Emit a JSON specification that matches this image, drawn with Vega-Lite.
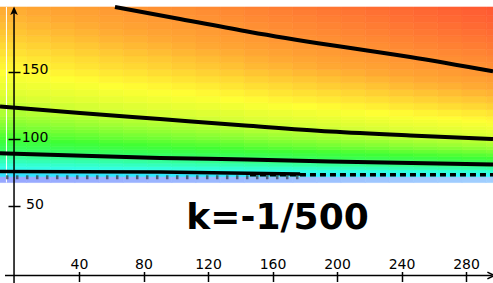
{
"$schema": "https://vega.github.io/schema/vega-lite/v6.json",
"width": 493, "height": 283, "autosize": "none", "padding": 0, "background": "white",
"config": {"view": {"stroke": null}},
"encoding": {
 "x": {"field": "x", "type": "quantitative", "title": null, "scale": {"domain": [-9, 296.7], "nice": false, "zero": false},
   "axis": {"title": null, "zindex": 1, "values": [40,80,120,160,200,240,280], "domain": false, "grid": false, "offset": -11.5, "tickSize": 10, "tickWidth": 1.5, "tickColor": "#000", "labelPadding": -13.5, "labelBaseline": "alphabetic", "labelFont": "DejaVu Sans", "labelFontSize": 14, "labelColor": "#000", "labelFlush": false, "labelOverlap": false}},
 "y": {"field": "y", "type": "quantitative", "title": null, "scale": {"domain": [-7.46, 203.73], "nice": false, "zero": false},
   "axis": {"title": null, "zindex": 1, "values": [50,100,150], "domain": false, "grid": false, "offset": -20, "tickSize": 12, "tickWidth": 1.5, "tickColor": "#000", "labelPadding": -26.5, "labelAlign": "center", "labelBaseline": "middle", "labelOffset": -2, "labelFont": "DejaVu Sans", "labelFontSize": 14, "labelColor": "#000", "labelFlush": false, "labelOverlap": false}}
},
"layer": [
 {
  "data": {"values": [
{"y":67.5,"y2":72,"c0":-100,"c1":-97,"c2":-94,"c3":-91,"c4":-87,"c5":-84,"c6":-81,"c7":-78,"c8":-75,"c9":-72,"c10":-68,"c11":-65,"c12":-62,"c13":-59,"c14":-56,"c15":-53,"c16":-49,"c17":-46,"c18":-43,"c19":-40,"c20":-37},
{"y":72,"y2":74.5,"c0":118,"c1":121,"c2":124,"c3":127,"c4":131,"c5":134,"c6":137,"c7":140,"c8":143,"c9":146,"c10":150,"c11":153,"c12":156,"c13":159,"c14":162,"c15":165,"c16":169,"c17":172,"c18":175,"c19":178,"c20":181},
{"y":74.5,"y2":77,"c0":175,"c1":178,"c2":181,"c3":184,"c4":188,"c5":191,"c6":194,"c7":197,"c8":200,"c9":203,"c10":207,"c11":210,"c12":213,"c13":216,"c14":219,"c15":222,"c16":226,"c17":229,"c18":232,"c19":235,"c20":238},
{"y":77,"y2":79.5,"c0":211,"c1":214,"c2":217,"c3":220,"c4":224,"c5":227,"c6":230,"c7":233,"c8":236,"c9":239,"c10":243,"c11":246,"c12":249,"c13":252,"c14":255,"c15":258,"c16":262,"c17":265,"c18":268,"c19":271,"c20":274},
{"y":79.5,"y2":82,"c0":237,"c1":240,"c2":243,"c3":246,"c4":250,"c5":253,"c6":256,"c7":259,"c8":262,"c9":265,"c10":269,"c11":272,"c12":275,"c13":278,"c14":281,"c15":284,"c16":288,"c17":291,"c18":294,"c19":297,"c20":300},
{"y":82,"y2":84.5,"c0":258,"c1":261,"c2":264,"c3":267,"c4":271,"c5":274,"c6":277,"c7":280,"c8":283,"c9":286,"c10":290,"c11":293,"c12":296,"c13":299,"c14":302,"c15":305,"c16":309,"c17":312,"c18":315,"c19":318,"c20":321},
{"y":84.5,"y2":87,"c0":276,"c1":279,"c2":282,"c3":285,"c4":289,"c5":292,"c6":295,"c7":298,"c8":301,"c9":304,"c10":308,"c11":311,"c12":314,"c13":317,"c14":320,"c15":323,"c16":327,"c17":330,"c18":333,"c19":336,"c20":339},
{"y":87,"y2":89.5,"c0":290,"c1":293,"c2":296,"c3":299,"c4":303,"c5":306,"c6":309,"c7":312,"c8":315,"c9":318,"c10":322,"c11":325,"c12":328,"c13":331,"c14":334,"c15":337,"c16":341,"c17":344,"c18":347,"c19":350,"c20":353},
{"y":89.5,"y2":92,"c0":303,"c1":306,"c2":309,"c3":312,"c4":316,"c5":319,"c6":322,"c7":325,"c8":328,"c9":331,"c10":335,"c11":338,"c12":341,"c13":344,"c14":347,"c15":350,"c16":354,"c17":357,"c18":360,"c19":363,"c20":366},
{"y":92,"y2":94.5,"c0":315,"c1":318,"c2":321,"c3":324,"c4":328,"c5":331,"c6":334,"c7":337,"c8":340,"c9":343,"c10":347,"c11":350,"c12":353,"c13":356,"c14":359,"c15":362,"c16":366,"c17":369,"c18":372,"c19":375,"c20":378},
{"y":94.5,"y2":97,"c0":325,"c1":328,"c2":331,"c3":334,"c4":338,"c5":341,"c6":344,"c7":347,"c8":350,"c9":353,"c10":357,"c11":360,"c12":363,"c13":366,"c14":369,"c15":372,"c16":376,"c17":379,"c18":382,"c19":385,"c20":388},
{"y":97,"y2":99.5,"c0":334,"c1":337,"c2":340,"c3":343,"c4":347,"c5":350,"c6":353,"c7":356,"c8":359,"c9":362,"c10":366,"c11":369,"c12":372,"c13":375,"c14":378,"c15":381,"c16":385,"c17":388,"c18":391,"c19":394,"c20":397},
{"y":99.5,"y2":102,"c0":343,"c1":346,"c2":349,"c3":352,"c4":356,"c5":359,"c6":362,"c7":365,"c8":368,"c9":371,"c10":375,"c11":378,"c12":381,"c13":384,"c14":387,"c15":390,"c16":394,"c17":397,"c18":400,"c19":403,"c20":406},
{"y":102,"y2":104.5,"c0":350,"c1":353,"c2":356,"c3":359,"c4":363,"c5":366,"c6":369,"c7":372,"c8":375,"c9":378,"c10":382,"c11":385,"c12":388,"c13":391,"c14":394,"c15":397,"c16":401,"c17":404,"c18":407,"c19":410,"c20":413},
{"y":104.5,"y2":107,"c0":358,"c1":361,"c2":364,"c3":367,"c4":371,"c5":374,"c6":377,"c7":380,"c8":383,"c9":386,"c10":390,"c11":393,"c12":396,"c13":399,"c14":402,"c15":405,"c16":409,"c17":412,"c18":415,"c19":418,"c20":421},
{"y":107,"y2":109.5,"c0":364,"c1":367,"c2":370,"c3":373,"c4":377,"c5":380,"c6":383,"c7":386,"c8":389,"c9":392,"c10":396,"c11":399,"c12":402,"c13":405,"c14":408,"c15":411,"c16":415,"c17":418,"c18":421,"c19":424,"c20":427},
{"y":109.5,"y2":112,"c0":371,"c1":374,"c2":377,"c3":380,"c4":384,"c5":387,"c6":390,"c7":393,"c8":396,"c9":399,"c10":403,"c11":406,"c12":409,"c13":412,"c14":415,"c15":418,"c16":422,"c17":425,"c18":428,"c19":431,"c20":434},
{"y":112,"y2":114.5,"c0":377,"c1":380,"c2":383,"c3":386,"c4":390,"c5":393,"c6":396,"c7":399,"c8":402,"c9":405,"c10":409,"c11":412,"c12":415,"c13":418,"c14":421,"c15":424,"c16":428,"c17":431,"c18":434,"c19":437,"c20":440},
{"y":114.5,"y2":117,"c0":382,"c1":385,"c2":388,"c3":391,"c4":395,"c5":398,"c6":401,"c7":404,"c8":407,"c9":410,"c10":414,"c11":417,"c12":420,"c13":423,"c14":426,"c15":429,"c16":433,"c17":436,"c18":439,"c19":442,"c20":445},
{"y":117,"y2":122,"c0":390,"c1":393,"c2":396,"c3":399,"c4":403,"c5":406,"c6":409,"c7":412,"c8":415,"c9":418,"c10":422,"c11":425,"c12":428,"c13":431,"c14":434,"c15":437,"c16":441,"c17":444,"c18":447,"c19":450,"c20":453},
{"y":122,"y2":127,"c0":400,"c1":403,"c2":406,"c3":409,"c4":413,"c5":416,"c6":419,"c7":422,"c8":425,"c9":428,"c10":432,"c11":435,"c12":438,"c13":441,"c14":444,"c15":447,"c16":451,"c17":454,"c18":457,"c19":460,"c20":463},
{"y":127,"y2":132,"c0":409,"c1":412,"c2":415,"c3":418,"c4":422,"c5":425,"c6":428,"c7":431,"c8":434,"c9":437,"c10":441,"c11":444,"c12":447,"c13":450,"c14":453,"c15":456,"c16":460,"c17":463,"c18":466,"c19":469,"c20":472},
{"y":132,"y2":137,"c0":417,"c1":420,"c2":423,"c3":426,"c4":430,"c5":433,"c6":436,"c7":439,"c8":442,"c9":445,"c10":449,"c11":452,"c12":455,"c13":458,"c14":461,"c15":464,"c16":468,"c17":471,"c18":474,"c19":477,"c20":480},
{"y":137,"y2":142,"c0":424,"c1":427,"c2":430,"c3":433,"c4":437,"c5":440,"c6":443,"c7":446,"c8":449,"c9":452,"c10":456,"c11":459,"c12":462,"c13":465,"c14":468,"c15":471,"c16":475,"c17":478,"c18":481,"c19":484,"c20":487},
{"y":142,"y2":147,"c0":431,"c1":434,"c2":437,"c3":440,"c4":444,"c5":447,"c6":450,"c7":453,"c8":456,"c9":459,"c10":463,"c11":466,"c12":469,"c13":472,"c14":475,"c15":478,"c16":482,"c17":485,"c18":488,"c19":491,"c20":494},
{"y":147,"y2":152,"c0":438,"c1":441,"c2":444,"c3":447,"c4":451,"c5":454,"c6":457,"c7":460,"c8":463,"c9":466,"c10":470,"c11":473,"c12":476,"c13":479,"c14":482,"c15":485,"c16":489,"c17":492,"c18":495,"c19":498,"c20":501},
{"y":152,"y2":157,"c0":444,"c1":447,"c2":450,"c3":453,"c4":457,"c5":460,"c6":463,"c7":466,"c8":469,"c9":472,"c10":476,"c11":479,"c12":482,"c13":485,"c14":488,"c15":491,"c16":495,"c17":498,"c18":501,"c19":504,"c20":507},
{"y":157,"y2":162,"c0":449,"c1":452,"c2":455,"c3":458,"c4":462,"c5":465,"c6":468,"c7":471,"c8":474,"c9":477,"c10":481,"c11":484,"c12":487,"c13":490,"c14":493,"c15":496,"c16":500,"c17":503,"c18":506,"c19":509,"c20":512},
{"y":162,"y2":167,"c0":455,"c1":458,"c2":461,"c3":464,"c4":468,"c5":471,"c6":474,"c7":477,"c8":480,"c9":483,"c10":487,"c11":490,"c12":493,"c13":496,"c14":499,"c15":502,"c16":506,"c17":509,"c18":512,"c19":515,"c20":518},
{"y":167,"y2":172,"c0":460,"c1":463,"c2":466,"c3":469,"c4":473,"c5":476,"c6":479,"c7":482,"c8":485,"c9":488,"c10":492,"c11":495,"c12":498,"c13":501,"c14":504,"c15":507,"c16":511,"c17":514,"c18":517,"c19":520,"c20":523},
{"y":172,"y2":177,"c0":465,"c1":468,"c2":471,"c3":474,"c4":478,"c5":481,"c6":484,"c7":487,"c8":490,"c9":493,"c10":497,"c11":500,"c12":503,"c13":506,"c14":509,"c15":512,"c16":516,"c17":519,"c18":522,"c19":525,"c20":528},
{"y":177,"y2":182,"c0":470,"c1":473,"c2":476,"c3":479,"c4":483,"c5":486,"c6":489,"c7":492,"c8":495,"c9":498,"c10":502,"c11":505,"c12":508,"c13":511,"c14":514,"c15":517,"c16":521,"c17":524,"c18":527,"c19":530,"c20":533},
{"y":182,"y2":187,"c0":474,"c1":477,"c2":480,"c3":483,"c4":487,"c5":490,"c6":493,"c7":496,"c8":499,"c9":502,"c10":506,"c11":509,"c12":512,"c13":515,"c14":518,"c15":521,"c16":525,"c17":528,"c18":531,"c19":534,"c20":537},
{"y":187,"y2":192,"c0":478,"c1":481,"c2":484,"c3":487,"c4":491,"c5":494,"c6":497,"c7":500,"c8":503,"c9":506,"c10":510,"c11":513,"c12":516,"c13":519,"c14":522,"c15":525,"c16":529,"c17":532,"c18":535,"c19":538,"c20":541},
{"y":192,"y2":197,"c0":482,"c1":485,"c2":488,"c3":491,"c4":495,"c5":498,"c6":501,"c7":504,"c8":507,"c9":510,"c10":514,"c11":517,"c12":520,"c13":523,"c14":526,"c15":529,"c16":533,"c17":536,"c18":539,"c19":542,"c20":545},
{"y":197,"y2":198.5,"c0":485,"c1":488,"c2":491,"c3":494,"c4":498,"c5":501,"c6":504,"c7":507,"c8":510,"c9":513,"c10":517,"c11":520,"c12":523,"c13":526,"c14":529,"c15":532,"c16":536,"c17":539,"c18":542,"c19":545,"c20":548}
  ]},
  "transform": [
   {"fold": ["c0","c1","c2","c3","c4","c5","c6","c7","c8","c9","c10","c11","c12","c13","c14","c15","c16","c17","c18","c19","c20"], "as": ["k", "L"]},
   {"lookup": "k", "from": {"data": {"values": [
     {"k":"c0","x":-15,"x2":7.5},{"k":"c1","x":7.5,"x2":22.5},{"k":"c2","x":22.5,"x2":37.5},{"k":"c3","x":37.5,"x2":52.5},{"k":"c4","x":52.5,"x2":67.5},{"k":"c5","x":67.5,"x2":82.5},{"k":"c6","x":82.5,"x2":97.5},{"k":"c7","x":97.5,"x2":112.5},{"k":"c8","x":112.5,"x2":127.5},{"k":"c9","x":127.5,"x2":142.5},{"k":"c10","x":142.5,"x2":157.5},{"k":"c11","x":157.5,"x2":172.5},{"k":"c12","x":172.5,"x2":187.5},{"k":"c13","x":187.5,"x2":202.5},{"k":"c14","x":202.5,"x2":217.5},{"k":"c15","x":217.5,"x2":232.5},{"k":"c16","x":232.5,"x2":247.5},{"k":"c17","x":247.5,"x2":262.5},{"k":"c18","x":262.5,"x2":277.5},{"k":"c19","x":277.5,"x2":292.5},{"k":"c20","x":292.5,"x2":307.5}
   ]}, "key": "k", "fields": ["x", "x2"]}}
  ],
  "mark": {"type": "rect", "clip": true, "strokeWidth": 0.6},
  "encoding": {
   "x2": {"field": "x2"}, "y2": {"field": "y2"},
   "color": {"field": "L", "type": "quantitative", "legend": null, "scale": {"interpolate": "rgb", "domain": [-100,-37,100,175,230,270,305,340,380,410,438,460,485,515,550], "range": ["#98a8ff","#a0d0ff","#30d8ff","#33f8ff","#33ffdd","#33ffaa","#33ff66","#40ff33","#99ff33","#d8ff33","#ffff33","#ffd833","#ffa833","#ff8433","#ff5533"]}},
   "stroke": {"field": "L", "type": "quantitative", "legend": null, "scale": {"interpolate": "rgb", "domain": [-100,-37,100,175,230,270,305,340,380,410,438,460,485,515,550], "range": ["#98a8ff","#a0d0ff","#30d8ff","#33f8ff","#33ffdd","#33ffaa","#33ff66","#40ff33","#99ff33","#d8ff33","#ffff33","#ffd833","#ffa833","#ff8433","#ff5533"]}}
  }
 },
 {
  "data": {"values": [{"x": -5, "y": 67.5, "y2": 198.5}]},
  "mark": {"type": "rule", "color": "white", "strokeWidth": 1},
  "encoding": {"y2": {"field": "y2"}}
 },
 {
  "data": {"values": [
   {"g":"A","x":62.3,"y":198.5},{"g":"A","x":102.6,"y":189.6},{"g":"A","x":146.0,"y":179.9},{"g":"A","x":195.7,"y":170.1},{"g":"A","x":245.3,"y":161.2},{"g":"A","x":296.7,"y":150.5},
   {"g":"B","x":-9.0,"y":124.3},{"g":"B","x":40.6,"y":119.4},{"g":"B","x":90.2,"y":114.9},{"g":"B","x":142.9,"y":110.1},{"g":"B","x":195.7,"y":105.6},{"g":"B","x":245.3,"y":102.6},{"g":"B","x":296.7,"y":100.0},
   {"g":"C","x":-9.0,"y":89.3},{"g":"C","x":90.2,"y":85.8},{"g":"C","x":144.2,"y":84.7},{"g":"C","x":195.7,"y":83.2},{"g":"C","x":296.7,"y":81.0}
  ]},
  "mark": {"type": "line", "color": "#000", "strokeWidth": 4, "clip": true, "interpolate": "monotone"},
  "encoding": {"detail": {"field": "g"}}
 },
 {
  "data": {"values": [{"x":-9.0,"y":75.7},{"x":90.2,"y":75.4},{"x":177.1,"y":73.9}]},
  "mark": {"type": "line", "color": "#000", "strokeWidth": 3.5, "clip": true},
  "encoding": {}
 },
 {
  "data": {"values": [{"x":146.0,"y":73.4},{"x":296.7,"y":73.4}]},
  "mark": {"type": "line", "color": "#000", "strokeWidth": 3.5, "strokeDash": [6,4], "clip": true},
  "encoding": {}
 },
 {
  "data": {"values": [{"x":-5.3,"y":71.4},{"x":177.1,"y":71.4}]},
  "mark": {"type": "line", "color": "#333", "opacity": 0.7, "strokeWidth": 4, "strokeDash": [2.5,7.5], "clip": true},
  "encoding": {}
 },
 {
  "data": {"values": [{"x": -0.3, "y": -7.46, "y2": 196}]},
  "mark": {"type": "rule", "color": "#000", "strokeWidth": 1.5},
  "encoding": {"y2": {"field": "y2"}}
 },
 {
  "data": {"values": [{"x": -5.9, "x2": 296, "y": -1.87}]},
  "mark": {"type": "rule", "color": "#000", "strokeWidth": 1.5},
  "encoding": {"x2": {"field": "x2"}}
 },
 {
  "data": {"values": [{"x": -0.3, "y": 195.7}]},
  "mark": {"type": "point", "shape": "M0,-1L-0.9,1L0,0.55L0.9,1Z", "filled": true, "color": "#000", "size": 72, "opacity": 1},
  "encoding": {}
 },
 {
  "data": {"values": [{"x": 295.3, "y": -1.87}]},
  "mark": {"type": "point", "shape": "M-1,-1L1,0L-1,1", "filled": false, "color": "#000", "strokeWidth": 1.5, "size": 45, "opacity": 1},
  "encoding": {}
 },
 {
  "data": {"values": [{"x":163.1,"y":32.8,"t":"k=-1/500"}]},
  "mark": {"type": "text", "font": "DejaVu Sans", "fontWeight": "bold", "fontSize": 36, "align": "center", "baseline": "alphabetic", "color": "#000"},
  "encoding": {"text": {"field": "t"}}
 }
]
}
